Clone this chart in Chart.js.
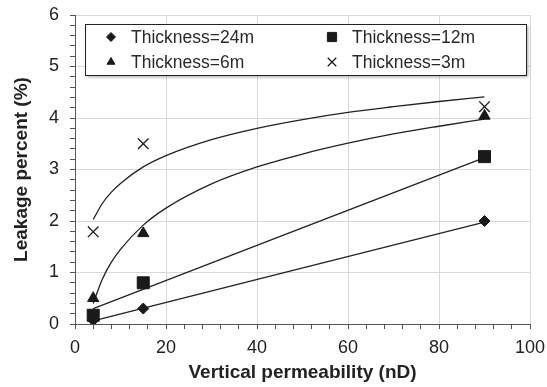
<!DOCTYPE html>
<html>
<head>
<meta charset="utf-8">
<script src="https://cdn.jsdelivr.net/npm/chart.js@4.4.1/dist/chart.umd.min.js"></script>
<style>
  html, body { margin: 0; padding: 0; background: #fff; }
  #wrap { width: 547px; height: 387px; }
</style>
</head>
<body>
<div id="wrap"><canvas id="leakChart"></canvas></div>
<script>
// Data
const permeability = [4, 15, 90];
const leak24 = [0.07, 0.30, 2.00];
const leak12 = [0.17, 0.80, 3.25];
const leak6 = [0.50, 1.76, 4.04];
const leak3 = [1.79, 3.50, 4.22];

// Trendlines as drawn in the figure
const trendX = [4, 6, 8, 10, 15, 20, 30, 40, 50, 60, 70, 80, 90];
const trend3 = [2.03, 2.34, 2.56, 2.73, 3.05, 3.27, 3.58, 3.80, 3.97, 4.11, 4.22, 4.32, 4.41];
const trend6 = [0.40, 0.87, 1.20, 1.45, 1.92, 2.25, 2.72, 3.05, 3.30, 3.51, 3.69, 3.84, 3.98];
const trendLinX = [4, 90];
const trend12 = [0.30, 3.23];
const trend24 = [0.06, 1.98];

const xTicks = [0, 20, 40, 60, 80, 100];
const yTicks = [0, 1, 2, 3, 4, 5, 6];

const FONT = '"Liberation Sans", Arial, sans-serif';
const INK = '#1a1a1a';

function pts(xs, ys) {
  return xs.map((x, i) => ({ x: x, y: ys[i] }));
}

function markerSet(label, ys, style, radius) {
  return {
    label: label,
    data: pts(permeability, ys),
    showLine: false,
    pointStyle: style,
    pointRadius: radius,
    pointHoverRadius: radius,
    pointBackgroundColor: INK,
    pointBorderColor: INK,
    pointBorderWidth: style === 'crossRot' ? 1.3 : 1,
    legendRadius: style === 'rect' ? 6.5 : (style === 'crossRot' ? 6 : 4.5)
  };
}

function trendSet(xs, ys) {
  return {
    label: '',
    isTrend: true,
    data: pts(xs, ys),
    showLine: true,
    pointRadius: 0,
    borderColor: '#222',
    borderWidth: 1.3,
    cubicInterpolationMode: 'monotone',
    fill: false
  };
}

const isMajor = (v, step) => Math.abs(v / step - Math.round(v / step)) < 1e-6;

// Legend box inside the plot
const insideLegend = {
  id: 'insideLegend',
  afterDatasetsDraw(chart) {
    const ctx = chart.ctx;
    const a = chart.chartArea;
    const bx = a.left + 10, by = a.top + 9;
    const bw = a.right - 4 - bx, bh = 51;
    ctx.save();
    ctx.shadowColor = 'rgba(0,0,0,0.35)';
    ctx.shadowOffsetX = 2;
    ctx.shadowOffsetY = 2;
    ctx.shadowBlur = 3;
    ctx.fillStyle = '#fff';
    ctx.fillRect(bx, by, bw, bh);
    ctx.restore();
    ctx.save();
    ctx.strokeStyle = '#222';
    ctx.lineWidth = 1;
    ctx.strokeRect(bx + 0.5, by + 0.5, bw, bh);
    ctx.font = '17.5px ' + FONT;
    ctx.textBaseline = 'middle';
    const items = chart.data.datasets.filter(d => !d.isTrend);
    items.forEach((d, i) => {
      const col = i % 2, row = Math.floor(i / 2);
      const mx = bx + 26 + col * 221;
      const my = by + 13 + row * 25;
      ctx.strokeStyle = INK;
      ctx.fillStyle = INK;
      ctx.lineWidth = d.pointBorderWidth;
      Chart.helpers.drawPoint(ctx, { pointStyle: d.pointStyle, radius: d.legendRadius, rotation: 0, borderWidth: d.pointBorderWidth }, mx, my);
      ctx.fillStyle = '#2a2a2a';
      ctx.fillText(d.label, mx + 20, my + 1);
    });
    ctx.restore();
  }
};

new Chart(document.getElementById('leakChart'), {
  type: 'scatter',
  data: {
    datasets: [
      markerSet('Thickness=24m', leak24, 'rectRot', 5.5),
      markerSet('Thickness=12m', leak12, 'rect', 8.5),
      markerSet('Thickness=6m', leak6, 'triangle', 6.5),
      markerSet('Thickness=3m', leak3, 'crossRot', 7.5),
      trendSet(trendLinX, trend24),
      trendSet(trendLinX, trend12),
      trendSet(trendX, trend6),
      trendSet(trendX, trend3)
    ]
  },
  options: {
    responsive: true,
    maintainAspectRatio: false,
    animation: false,
    layout: { padding: { top: 15, right: 17, left: 0, bottom: 0 } },
    plugins: {
      legend: { display: false },
      tooltip: { enabled: false }
    },
    scales: {
      x: {
        type: 'linear',
        min: xTicks[0],
        max: xTicks[xTicks.length - 1],
        afterFit: s => { s.height = 63; s.paddingLeft = 0; s.paddingRight = 0; },
        border: { color: '#555', width: 1 },
        grid: {
          color: c => isMajor(c.tick.value, 20) ? '#d9d9d9' : 'rgba(0,0,0,0)',
          tickColor: '#555',
          tickLength: 5,
          lineWidth: 1
        },
        ticks: {
          stepSize: 4,
          autoSkip: false,
          maxRotation: 0,
          padding: 8,
          color: '#222',
          font: { family: FONT, size: 18 },
          callback: v => xTicks.includes(Math.round(v)) && isMajor(v, 20) ? Math.round(v) : ''
        },
        title: {
          display: true,
          text: 'Vertical permeability (nD)',
          color: '#222',
          font: { family: FONT, size: 19, weight: 'bold' },
          padding: { top: 0, bottom: 3 }
        }
      },
      y: {
        type: 'linear',
        min: yTicks[0],
        max: yTicks[yTicks.length - 1],
        afterFit: s => { s.width = 75; s.paddingTop = 0; s.paddingBottom = 0; },
        border: { color: '#555', width: 1 },
        grid: {
          color: c => isMajor(c.tick.value, 1) ? '#d9d9d9' : 'rgba(0,0,0,0)',
          tickColor: '#555',
          tickLength: 5,
          lineWidth: 1
        },
        ticks: {
          stepSize: 0.2,
          autoSkip: false,
          padding: 11,
          color: '#222',
          font: { family: FONT, size: 18 },
          callback: v => isMajor(v, 1) && yTicks.includes(Math.round(v)) ? Math.round(v) : ''
        },
        title: {
          display: true,
          text: 'Leakage percent (%)',
          color: '#222',
          font: { family: FONT, size: 19, weight: 'bold' },
          padding: { top: 10, bottom: 0 }
        }
      }
    }
  },
  plugins: [insideLegend]
});
</script>
</body>
</html>
